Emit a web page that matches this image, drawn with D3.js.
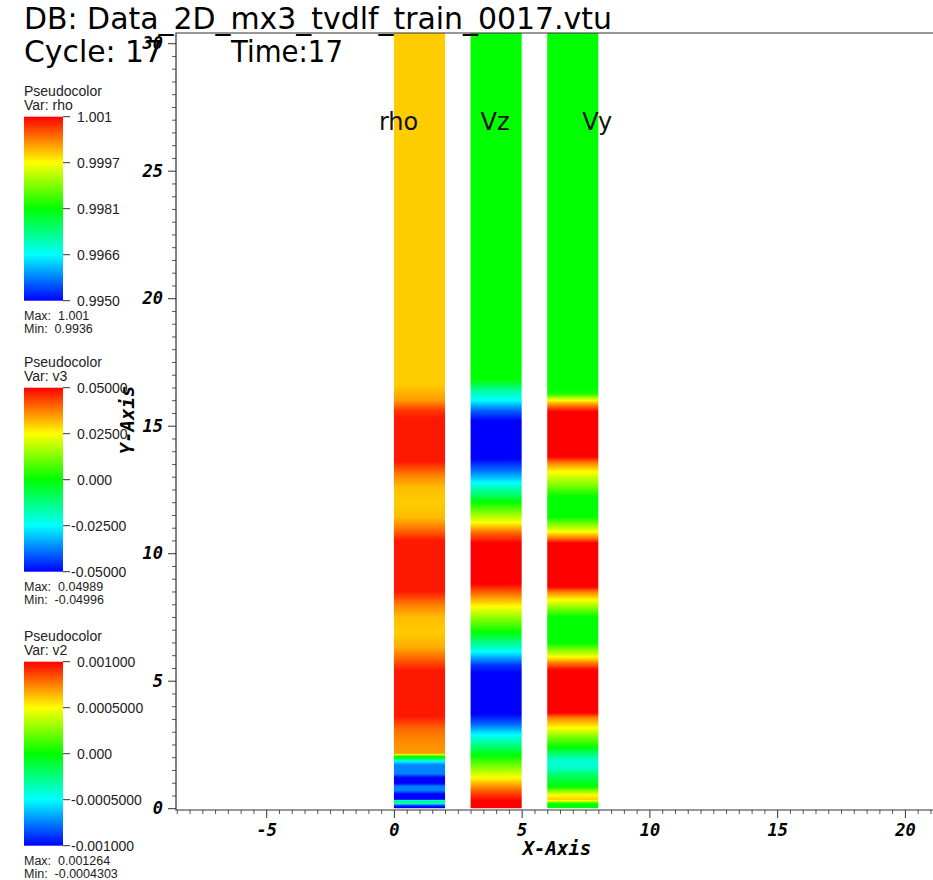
<!DOCTYPE html>
<html>
<head>
<meta charset="utf-8">
<script src="https://cdn.jsdelivr.net/npm/d3@7"></script>
<style>
  body { margin: 0; background: #fff; }
  svg { display: block; }
</style>
</head>
<body>
<div id="chart"></div>
<script>
// ---- data ----
const columnNames = ["rho", "Vz", "Vy"];
const columnSpans = [[0, 2], [3, 5], [6, 8]];
const columnTop = 30.4;

// rho profile (y, value)
const rhoY = [30.4, 16.6, 16.0, 15.6, 15.3, 13.6, 13.1, 12.6, 12.0, 11.4, 10.9, 10.5, 8.5, 8.0, 7.5, 6.9, 6.3, 5.8, 5.4, 3.6, 3.1, 2.6, 2.15, 2.08, 2.04, 1.98, 1.85, 1.7, 1.35, 1.2, 0.98, 0.85, 0.7, 0.55, 0.35, 0.27, 0.2, 0.12, 0.05, 0];
const rhoValues = [1.0000, 1.0000, 1.0003, 1.0009, 1.0011, 1.0011, 1.0005, 1.0001, 1.0000, 1.0001, 1.0006, 1.0011, 1.0011, 1.0005, 1.0001, 1.0000, 1.0002, 1.0007, 1.0011, 1.0011, 1.0006, 1.0004, 1.0003, 0.9990, 0.9983, 0.9981, 0.9966, 0.9958, 0.9958, 0.9950, 0.9950, 0.9958, 0.9958, 0.9950, 0.9950, 0.9975, 0.9972, 0.9955, 0.9950, 0.9950];

// Vz (v3) profile
const vzY = [30.4, 17.0, 16.8, 16.4, 16.0, 15.6, 15.2, 13.7, 13.2, 12.76, 12.0, 11.2, 10.8, 10.4, 8.8, 8.45, 7.9, 6.9, 6.13, 5.6, 5.3, 3.7, 3.3, 2.88, 2.06, 1.19, 0.72, 0.3, 0];
const vzValues = [0, 0, 0, -0.015, -0.025, -0.04, -0.05, -0.05, -0.038, -0.025, 0, 0.025, 0.04, 0.05, 0.05, 0.04, 0.025, 0, -0.025, -0.045, -0.05, -0.05, -0.04, -0.025, 0, 0.025, 0.04, 0.05, 0.05];

// Vy (v2) profile
const vyY = [30.4, 16.5, 16.25, 16.0, 15.8, 15.55, 13.78, 13.54, 13.19, 12.68, 12.21, 11.42, 10.84, 10.6, 10.4, 8.68, 8.48, 8.17, 7.5, 6.48, 5.93, 5.7, 5.42, 3.74, 3.55, 3.15, 2.8, 2.4, 1.9, 1.58, 1.3, 0.84, 0.52, 0.33, 0.17, 0];
const vyValues = [0, 0, 0.00005, 0.0005, 0.00075, 0.001, 0.001, 0.00075, 0.0005, 0.00025, 0, 0, 0.0005, 0.00075, 0.001, 0.001, 0.00075, 0.0005, 0, 0, 0.0005, 0.00075, 0.001, 0.001, 0.00075, 0.0005, 0.00025, 0, -0.0004, -0.0004, -0.0002, 0, 0.0005, 0.0006, 0, 0];

// legends
const legendVars = ["rho", "v3", "v2"];
const legendRanges = [[0.995, 1.00125], [-0.05, 0.05], [-0.001, 0.001]];
const legendTickLabels = [
  ["0.9950", "0.9966", "0.9981", "0.9997", "1.001"],
  ["-0.05000", "-0.02500", "0.000", "0.02500", "0.05000"],
  ["-0.001000", "-0.0005000", "0.000", "0.0005000", "0.001000"]
];
const legendMax = ["1.001", "0.04989", "0.001264"];
const legendMin = ["0.9936", "-0.04996", "-0.0004303"];

const xMajorTicks = [-5, 0, 5, 10, 15, 20];
const yMajorTicks = [0, 5, 10, 15, 20, 25, 30];

const titleText = "DB: Data_2D_mx3_tvdlf_train_0017.vtu";
const cycleText = "Cycle: 17";
const timeText = "Time:17";

// ---- layout ----
const width = 933, height = 880;
const plot = { left: 176, right: 933, top: 33, bottom: 810 };
const hotColors = ["#0000ff", "#00ffff", "#00ff00", "#ffff00", "#ff0000"];
const breakPoints = [0, 0.25, 0.5, 0.75, 1];
const titleFont = "'DejaVu Sans', sans-serif";
const axisFont = "'DejaVu Sans Mono', monospace";
const legendFont = "'Liberation Sans', Arial, sans-serif";

const svg = d3.select("#chart")
  .append("svg")
    .attr("width", width)
    .attr("height", height)
    .attr("viewBox", `0 0 ${width} ${height}`);

const defs = svg.append("defs");

const xScale = d3.scaleLinear().domain([-8.53, 21.1]).range([plot.left, plot.right]);
const yScale = d3.scaleLinear().domain([-0.07, 30.4]).range([plot.bottom, plot.top]);

const makeColor = ([lo, hi]) => d3.scaleLinear()
  .domain(breakPoints.map(t => lo + t * (hi - lo)))
  .range(hotColors)
  .clamp(true);

// ---- colored columns ----
const profiles = [
  { ys: rhoY, vals: rhoValues, range: legendRanges[0] },
  { ys: vzY, vals: vzValues, range: legendRanges[1] },
  { ys: vyY, vals: vyValues, range: legendRanges[2] }
];

profiles.forEach((p, i) => {
  const color = makeColor(p.range);
  const [lo, hi] = p.range;
  const norm = v => (v - lo) / (hi - lo);
  const y1 = yScale(0), y2 = yScale(columnTop);
  const off = y => (yScale(y) - y1) / (y2 - y1);

  // order bottom -> top for gradient stops, add stops where the colour map bends
  const pts = d3.zip(p.ys, p.vals).sort((a, b) => a[0] - b[0]);
  const stops = [];
  pts.forEach((pt, k) => {
    stops.push({ o: off(pt[0]), c: color(pt[1]) });
    if (k < pts.length - 1) {
      const nx = pts[k + 1];
      const ta = norm(pt[1]), tb = norm(nx[1]);
      const bps = breakPoints.filter(b => (b - ta) * (b - tb) < 0)
        .sort((a, b) => ta < tb ? a - b : b - a);
      bps.forEach(b => {
        const f = (b - ta) / (tb - ta);
        stops.push({ o: off(pt[0] + f * (nx[0] - pt[0])), c: color(lo + b * (hi - lo)) });
      });
    }
  });

  const grad = defs.append("linearGradient")
    .attr("id", `col-grad-${i}`)
    .attr("gradientUnits", "userSpaceOnUse")
    .attr("x1", 0).attr("x2", 0)
    .attr("y1", y1).attr("y2", y2);
  grad.selectAll("stop")
    .data(stops)
    .join("stop")
      .attr("offset", d => Math.max(0, Math.min(1, d.o)))
      .attr("stop-color", d => d.c);

  svg.append("rect")
    .attr("x", xScale(columnSpans[i][0]))
    .attr("width", xScale(columnSpans[i][1]) - xScale(columnSpans[i][0]))
    .attr("y", yScale(columnTop))
    .attr("height", yScale(0) - yScale(columnTop))
    .attr("fill", `url(#col-grad-${i})`);
});

// column labels
svg.selectAll(".col-label")
  .data(columnNames)
  .join("text")
    .attr("class", "col-label")
    .attr("x", (d, i) => xScale(columnSpans[i][0]) + [-15, 10, 35][i])
    .attr("y", 130)
    .attr("font-family", titleFont)
    .attr("font-size", 24)
    .attr("fill", "#111")
    .text(d => d);

// ---- axes ----
const minorX = d3.range(-8.5, 21.11, 0.5).filter(v => v % 5 !== 0);
const minorY = d3.range(0, 30.41, 0.5).filter(v => v % 5 !== 0);

svg.append("g")
  .attr("transform", `translate(0, ${plot.bottom})`)
  .call(d3.axisBottom(xScale).tickValues(minorX).tickSize(4).tickFormat(""))
  .call(g => g.select(".domain").remove())
  .selectAll("line").attr("stroke", "#555");

svg.append("g")
  .attr("transform", `translate(${plot.left}, 0)`)
  .call(d3.axisLeft(yScale).tickValues(minorY).tickSize(4).tickFormat(""))
  .call(g => g.select(".domain").remove())
  .selectAll("line").attr("stroke", "#555");

const bottomAxis = svg.append("g")
  .attr("transform", `translate(0, ${plot.bottom})`)
  .call(d3.axisBottom(xScale).tickValues(xMajorTicks).tickSize(8).tickPadding(6).tickFormat(d => String(d)));
bottomAxis.select(".domain").remove();

const leftAxis = svg.append("g")
  .attr("transform", `translate(${plot.left}, 0)`)
  .call(d3.axisLeft(yScale).tickValues(yMajorTicks).tickSize(8).tickPadding(5).tickFormat(d => String(d)));
leftAxis.select(".domain").remove();

[bottomAxis, leftAxis].forEach(g => {
  g.selectAll("line").attr("stroke", "#333");
  g.selectAll("text")
    .attr("font-family", axisFont)
    .attr("font-weight", "bold")
    .attr("font-style", "italic")
    .attr("font-size", 17)
    .attr("fill", "#000");
});

// frame lines
svg.append("path")
  .attr("d", `M${plot.right},${plot.top}H${plot.left}V${plot.bottom}H${plot.right}`)
  .attr("fill", "none")
  .attr("stroke", "#333")
  .attr("stroke-width", 1.2);

svg.append("text")
  .text("X-Axis")
  .attr("x", 557).attr("y", 855)
  .attr("text-anchor", "middle")
  .attr("font-family", axisFont).attr("font-weight", "bold").attr("font-style", "italic")
  .attr("font-size", 19);

svg.append("text")
  .text("Y-Axis")
  .attr("transform", "translate(134, 420) rotate(-90)")
  .attr("text-anchor", "middle")
  .attr("font-family", axisFont).attr("font-weight", "bold").attr("font-style", "italic")
  .attr("font-size", 19);

// ---- legends ----
const legendTops = [116.7, 387.7, 661.7];
const barH = 184, barX = 24, barW = 39;

const legendGrad = defs.append("linearGradient")
  .attr("id", "hot-grad")
  .attr("x1", 0).attr("x2", 0).attr("y1", 1).attr("y2", 0);
legendGrad.selectAll("stop")
  .data(hotColors)
  .join("stop")
    .attr("offset", (d, i) => breakPoints[i])
    .attr("stop-color", d => d);

legendVars.forEach((v, i) => {
  const top = legendTops[i];
  const g = svg.append("g").attr("font-family", legendFont).attr("fill", "#222");
  const ls = d3.scaleLinear().domain([0, 4]).range([top + barH, top]);

  g.append("text").text("Pseudocolor").attr("x", barX).attr("y", top - 21).attr("font-size", 14);
  g.append("text").text(`Var: ${v}`).attr("x", barX).attr("y", top - 6.5).attr("font-size", 14);

  g.append("rect")
    .attr("x", barX).attr("y", top)
    .attr("width", barW).attr("height", barH)
    .attr("fill", "url(#hot-grad)");

  g.selectAll(".lt")
    .data(legendTickLabels[i])
    .join("line")
      .attr("x1", barX + barW).attr("x2", barX + barW + 7)
      .attr("y1", (d, k) => ls(k)).attr("y2", (d, k) => ls(k))
      .attr("stroke", "#333");

  g.selectAll(".ll")
    .data(legendTickLabels[i])
    .join("text")
      .attr("x", d => d.startsWith("-") ? 71 : 77)
      .attr("y", (d, k) => ls(k) + 5)
      .attr("font-size", 14)
      .text(d => d);

  g.append("text").text(`Max:  ${legendMax[i]}`).attr("x", barX).attr("y", top + barH + 19)
    .attr("font-size", 12.5).attr("xml:space", "preserve");
  g.append("text").text(`Min:  ${legendMin[i]}`).attr("x", barX).attr("y", top + barH + 32)
    .attr("font-size", 12.5).attr("xml:space", "preserve");
});

// ---- titles ----
svg.append("text")
  .text(titleText)
  .attr("x", 24).attr("y", 29)
  .attr("font-family", titleFont).attr("font-size", 31)
  .attr("textLength", 588).attr("lengthAdjust", "spacingAndGlyphs");

svg.append("text")
  .text(cycleText)
  .attr("x", 24).attr("y", 62)
  .attr("font-family", titleFont).attr("font-size", 31)
  .attr("textLength", 139).attr("lengthAdjust", "spacingAndGlyphs");

svg.append("text")
  .text(timeText)
  .attr("x", 231).attr("y", 62)
  .attr("font-family", titleFont).attr("font-size", 31)
  .attr("textLength", 112).attr("lengthAdjust", "spacingAndGlyphs");
</script>
</body>
</html>
